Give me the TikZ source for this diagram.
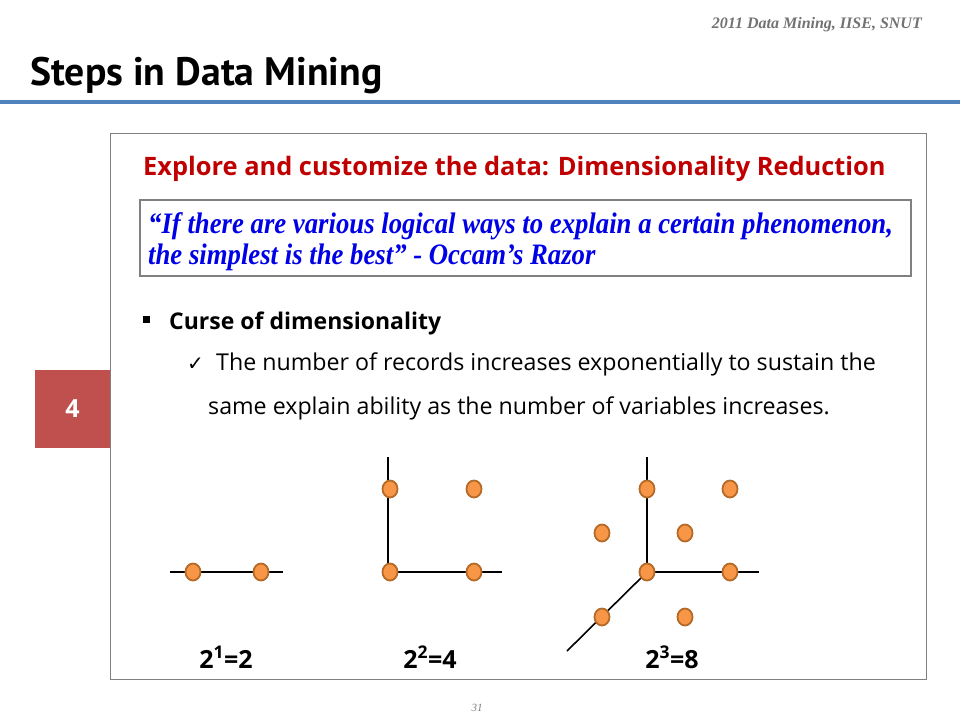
\documentclass[tikz,border=0pt]{standalone}
\usepackage{fontspec}
\usetikzlibrary{shapes.geometric}
\setmainfont{Liberation Serif}
\newfontfamily\sansf{PT Sans}
\newfontfamily\bodyf{Open Sans}
\newfontfamily\quotef{Liberation Serif}[FakeStretch=0.9]
\newfontfamily\checkf{DejaVu Sans}
\definecolor{bluebar}{RGB}{79,129,189}
\definecolor{redhead}{RGB}{192,0,0}
\definecolor{redbox}{RGB}{192,80,77}
\definecolor{dotfill}{RGB}{247,150,70}
\definecolor{dotline}{RGB}{182,106,40}
\definecolor{quoteblue}{RGB}{0,0,230}
\begin{document}
\begin{tikzpicture}[x=1pt,y=-1pt,
  dot/.style={ellipse,draw=dotline,line width=1.8pt,fill=dotfill,minimum width=15pt,minimum height=17pt,inner sep=0pt},
  axis/.style={line width=1.6pt,black},
  txt/.style={inner sep=0pt,anchor=base west},
  quote/.style={txt,text=quoteblue,font=\quotef\bfseries\itshape\fontsize{29.7}{32}\selectfont},
  body/.style={txt,font=\bodyf\fontsize{23.2}{26}\selectfont},
  lbl/.style={inner sep=0pt,anchor=base,font=\bodyf\bfseries\fontsize{25}{28}\selectfont}]
\useasboundingbox (0,0) rectangle (960,720);
\fill[white] (0,0) rectangle (960,720);
% header
\node[inner sep=0pt,anchor=base east,text=gray!90!black,font=\itshape\bfseries\fontsize{16}{18}\selectfont] (hdr) at (922,28) {2011 Data Mining, IISE, SNUT};
\node[txt,font=\sansf\bfseries\fontsize{39.7}{42}\selectfont] (title) at (30,85) {Steps in Data Mining};
\draw[bluebar,line width=4pt] (0,102) -- (960,102);
% main box
\draw[gray,line width=1pt] (110,133) rectangle (926,679);
\node[fill=redbox,minimum width=75pt,minimum height=78pt,inner sep=0pt,text=white,font=\bodyf\bfseries\fontsize{25}{28}\selectfont] (step) at (72.5,409) {4};
\node[txt,text=redhead,font=\bodyf\bfseries\fontsize{25.4}{28}\selectfont] (head) at (143,175) {Explore and customize the data: Dimensionality Reduction};
\draw[gray,line width=2pt] (140,200) rectangle (911,276);
\node[quote] (q1) at (148,233) {“If there are various logical ways to explain a certain phenomenon,};
\node[quote] (q2) at (148,264) {the simplest is the best” - Occam’s Razor};
% bullets
\fill (143,316) rectangle (150,323);
\node[txt,font=\bodyf\bfseries\fontsize{23}{26}\selectfont] (curse) at (169,329) {Curse of dimensionality};
\node[txt,font=\checkf\fontsize{20}{22}\selectfont] (chk) at (187,370) {✓};
\node[body] (l1) at (216,370) {The number of records increases exponentially to sustain the};
\node[body] (l2) at (208,414) {same explain ability as the number of variables increases.};
% 1D
\coordinate (a1) at (170,572); \coordinate (a2) at (283,572);
\draw[axis] (a1) -- (a2);
\node[dot] (d11) at (193,572) {};
\node[dot] (d12) at (261,572) {};
% 2D
\coordinate (b0) at (388,572); \coordinate (b1) at (388,457); \coordinate (b2) at (502,572);
\draw[axis] (b1) -- (b0) -- (b2);
\node[dot] (d21) at (390,489) {};
\node[dot] (d22) at (474,489) {};
\node[dot] (d23) at (390,572) {};
\node[dot] (d24) at (474,572) {};
% 3D
\coordinate (c0) at (647,572); \coordinate (c1) at (647,457); \coordinate (c2) at (759,572); \coordinate (c3) at (567,651);
\draw[axis] (c1) -- (c0) -- (c2);
\draw[axis] (c0) -- (c3);
\node[dot] (d31) at (647,489) {};
\node[dot] (d32) at (730,489) {};
\node[dot] (d33) at (602,533) {};
\node[dot] (d34) at (685,533) {};
\node[dot] (d35) at (647,572) {};
\node[dot] (d36) at (730,572) {};
\node[dot] (d37) at (602,617) {};
\node[dot] (d38) at (685,617) {};
% labels
\node[lbl] (e1) at (226,668) {2\textsuperscript{1}=2};
\node[lbl] (e2) at (430,668) {2\textsuperscript{2}=4};
\node[lbl] (e3) at (672,668) {2\textsuperscript{3}=8};
\node[inner sep=0pt,anchor=base,text=gray,font=\itshape\fontsize{11}{12}\selectfont] (pg) at (477,711) {31};
\end{tikzpicture}
\end{document}
